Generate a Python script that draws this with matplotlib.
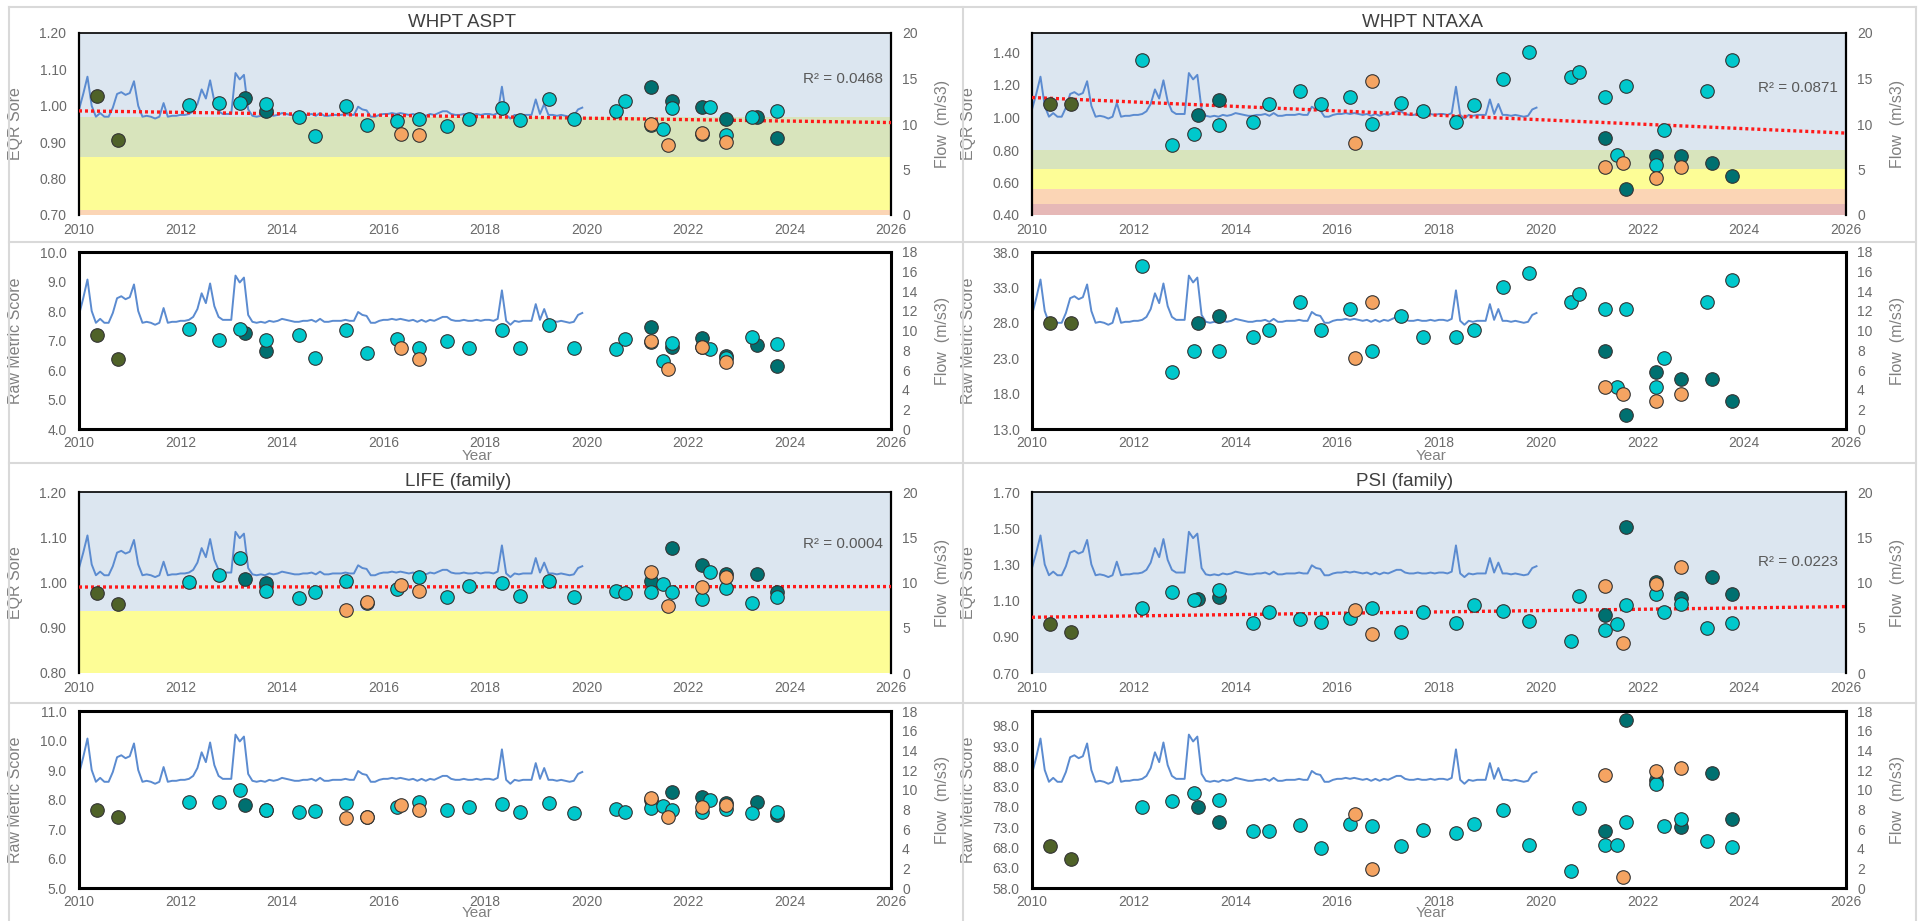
import numpy as np
import matplotlib.pyplot as plt
import matplotlib.transforms as mtransforms
from matplotlib.patches import Rectangle
from matplotlib.lines import Line2D
from matplotlib.ticker import FormatStrFormatter, FixedLocator

plt.rcParams['font.family'] = ['Liberation Sans', 'DejaVu Sans']

nan = np.nan

# ---- flow (m/s3), monthly from Jan 2010 to Dec 2019 ----
flow = [11.6, 13.3, 15.2, 12.0, 10.8, 11.2, 10.8, 10.8, 11.8, 13.3, 13.5, 13.2,
        13.4, 14.7, 12.0, 10.8, 10.9, 10.8, 10.6, 10.8, 12.3, 10.8, 10.9, 10.9,
        11.0, 11.0, 11.1, 11.4, 12.2, 13.8, 12.8, 14.8, 12.5, 11.4, 11.1, 11.1,
        11.1, 15.6, 14.9, 15.4, 11.6, 10.9, 10.8, 10.9, 10.8, 11.0, 10.9, 11.0,
        11.2, 11.1, 11.0, 10.9, 10.9, 11.0, 11.0, 11.1, 10.9, 11.2, 10.9, 10.9,
        11.0, 11.0, 11.0, 11.1, 11.0, 11.0, 11.9, 11.6, 11.5, 10.8, 10.8, 11.0,
        11.1, 11.1, 11.2, 11.1, 11.2, 11.1, 11.0, 11.1, 10.9, 11.1, 10.9, 11.1,
        11.0, 11.2, 11.4, 11.4, 11.1, 11.0, 11.0, 11.1, 11.0, 11.0, 11.1, 11.0,
        11.1, 11.1, 11.0, 11.2, 14.1, 11.0, 10.6, 11.0, 10.9, 11.0, 11.0, 11.0,
        12.7, 11.1, 12.2, 11.0, 11.0, 10.9, 11.0, 10.9, 10.8, 10.9, 11.6, 11.8]
flow_years = 2010 + np.arange(len(flow)) / 12

# ---- sample dates (decimal years) per series ----
olive_dates = [2010.35, 2010.76]
cyan_dates = [2012.17, 2012.75, 2013.18, 2013.68, 2014.34, 2014.66, 2015.27, 2015.68,
              2016.26, 2016.69, 2017.25, 2017.69, 2018.34, 2018.68, 2019.26, 2019.76,
              2020.59, 2020.76, 2021.27, 2021.50, 2021.68, 2022.27, 2022.43, 2022.75,
              2023.26, 2023.76]
teal_dates = [2013.27, 2013.68, 2021.27, 2021.68, 2022.27, 2022.75, 2023.36, 2023.76]
orange_dates = [2015.27, 2015.68, 2016.35, 2016.69, 2021.27, 2021.61, 2022.27, 2022.75]

# ---- WHPT ASPT ----
aspt_eqr_olive = [1.027, 0.906]
aspt_eqr_cyan = [1.002, 1.009, 1.007, 1.006, 0.969, 0.917, 0.999, 0.946, 0.958, 0.965,
                 0.944, 0.963, 0.993, 0.961, 1.020, 0.963, 0.985, 1.012, 0.946, 0.935,
                 0.994, 0.922, 0.998, 0.920, 0.969, 0.987]
aspt_eqr_teal = [1.021, 0.985, 1.053, 1.013, 0.998, 0.965, 0.969, 0.911]
aspt_eqr_orange = [nan, nan, 0.923, 0.921, 0.950, 0.892, 0.926, 0.900]
aspt_trend = [0.986, 0.954]
aspt_r2 = "R² = 0.0468"
aspt_bands = [1.20, 0.968, 0.859, 0.715, 0.70]

aspt_raw_olive = [7.20, 6.36]
aspt_raw_cyan = [7.38, 7.01, 7.39, 7.01, 7.17, 6.41, 7.36, 6.59, 7.05, 6.73, 6.99, 6.73,
                 7.36, 6.73, 7.52, 6.76, 6.72, 7.05, 6.95, 6.30, 6.90, 6.77, 6.72, 6.40,
                 7.12, 6.88]
aspt_raw_teal = [7.24, 6.65, 7.46, 6.79, 7.09, 6.48, 6.85, 6.13]
aspt_raw_orange = [nan, nan, 6.75, 6.37, 6.98, 6.02, 6.79, 6.26]

# ---- WHPT NTAXA ----
ntaxa_eqr_olive = [1.08, 1.08]
ntaxa_eqr_cyan = [1.351, 0.828, 0.900, 0.953, 0.973, 1.082, 1.162, 1.082, 1.125, 0.961,
                  1.088, 1.041, 0.973, 1.076, 1.238, 1.400, 1.248, 1.277, 1.125, 0.768,
                  1.195, 0.709, 0.920, nan, 1.164, 1.355]
ntaxa_eqr_teal = [1.016, 1.105, 0.871, 0.563, 0.764, 0.760, 0.723, 0.643]
ntaxa_eqr_orange = [nan, nan, 0.846, 1.222, 0.698, 0.719, 0.625, 0.698]
ntaxa_trend = [1.123, 0.904]
ntaxa_r2 = "R² = 0.0871"
ntaxa_bands = [1.52, 0.80, 0.68, 0.56, 0.465, 0.40]

ntaxa_raw_olive = [28, 28]
ntaxa_raw_cyan = [36, 21, 24, 24, 26, 27, 31, 27, 30, 24, 29, 26, 26, 27, 33, 35,
                  31, 32, 30, 19, 30, 19, 23, nan, 31, 34]
ntaxa_raw_teal = [28, 29, 24, 15, 21, 20, 20, 17]
ntaxa_raw_orange = [nan, nan, 23, 31, 19, 18, 17, 18]

# ---- LIFE (family) ----
life_eqr_olive = [0.977, 0.953]
life_eqr_cyan = [1.002, 1.017, 1.054, 0.981, 0.966, 0.979, 1.004, 0.955, 0.986, 1.012,
                 0.968, 0.993, 0.999, 0.970, 1.004, 0.968, 0.981, 0.977, 0.979, 0.997,
                 0.979, 0.964, 1.023, 0.987, 0.955, 0.968]
life_eqr_teal = [1.008, 0.999, 1.004, 1.076, 1.039, 1.019, 1.018, 0.979]
life_eqr_orange = [0.939, 0.958, 0.995, 0.982, 1.024, 0.949, 0.990, 1.012]
life_trend = [0.990, 0.991]
life_r2 = "R² = 0.0004"
life_bands = [1.20, 0.937, 0.80]

life_raw_olive = [7.63, 7.42]
life_raw_cyan = [7.91, 7.91, 8.31, 7.65, 7.59, 7.61, 7.88, 7.40, 7.74, 7.90, 7.63, 7.74,
                 7.85, 7.56, 7.88, 7.53, 7.67, 7.57, 7.70, 7.78, 7.63, 7.59, 7.99, 7.67,
                 7.53, 7.59]
life_raw_teal = [7.80, 7.63, 7.98, 8.27, 8.10, 7.88, 7.93, 7.48]
life_raw_orange = [7.38, 7.42, 7.80, 7.63, 8.05, 7.40, 7.74, 7.82]

# ---- PSI (family) ----
psi_eqr_olive = [0.972, 0.924]
psi_eqr_cyan = [1.061, 1.146, 1.104, 1.159, 0.979, 1.039, 0.997, 0.984, 1.003, 1.061,
                0.929, 1.039, 0.977, 1.073, 1.045, 0.990, 0.878, 1.126, 0.935, 0.972,
                1.076, 1.135, 1.036, 1.082, 0.948, 0.979]
psi_eqr_teal = [1.107, 1.122, 1.021, 1.507, 1.205, 1.113, 1.228, 1.135]
psi_eqr_orange = [nan, nan, 1.049, 0.917, 1.181, 0.865, 1.190, 1.283]
psi_trend = [1.008, 1.067]
psi_r2 = "R² = 0.0223"
psi_bands = [1.70, 0.70]

psi_raw_olive = [68.4, 65.1]
psi_raw_cyan = [77.9, 79.5, 81.4, 79.8, 72.1, 72.1, 73.6, 67.9, 73.8, 73.4, 68.4, 72.3,
                71.7, 73.9, 77.2, 68.7, 62.3, 77.7, 68.7, 68.7, 74.3, 83.8, 73.4, 75.0,
                69.7, 68.2]
psi_raw_teal = [78.1, 74.3, 72.1, 99.4, 84.6, 73.1, 86.5, 75.0]
psi_raw_orange = [nan, nan, 76.2, 62.7, 85.8, 60.8, 86.9, 87.7]

# ---- styles ----
BLUE, GREEN, YELLOW, ORANGE, RED = '#dce6f0', '#d8e4bc', '#fdfd96', '#fbd5b5', '#e6b8b7'
col_olive, col_teal, col_cyan, col_orange = '#4f6228', '#007070', '#00c8cc', '#f5a462'
flow_col = '#5b8bd0'
tick_col = '#6a6a6a'
lab_col = '#808080'
xlim = (2010, 2026)
xticks = [2010, 2012, 2014, 2016, 2018, 2020, 2022, 2024, 2026]

W, H = 1919, 921
fig = plt.figure(figsize=(W / 100, H / 100), dpi=100)


def rect(x0, y0, x1, y1):
    return [x0 / W, 1 - y1 / H, (x1 - x0) / W, (y1 - y0) / H]


def points(ax, olive, teal, cyan, orange):
    for d, v, c in [(olive_dates, olive, col_olive), (teal_dates, teal, col_teal),
                    (cyan_dates, cyan, col_cyan), (orange_dates, orange, col_orange)]:
        ax.scatter(d, v, s=95, c=c, edgecolors='#333333', linewidths=0.8, zorder=4)


def base(ax, ax2, ylim, yticks, fmt, flow_max, flow_ticks, ylabel, xpad):
    ax.set_zorder(ax2.get_zorder() + 1)
    ax.patch.set_visible(False)
    ax2.plot(flow_years, flow, color=flow_col, lw=1.4, zorder=2)
    ax.set_xlim(xlim)
    ax.set_ylim(ylim)
    ax2.set_ylim(0, flow_max)
    ax.xaxis.set_major_locator(FixedLocator(xticks))
    ax.yaxis.set_major_locator(FixedLocator(yticks))
    ax.yaxis.set_major_formatter(FormatStrFormatter(fmt))
    ax2.yaxis.set_major_locator(FixedLocator(flow_ticks))
    ax.tick_params(length=0, labelsize=10, colors=tick_col)
    ax.tick_params(axis='y', pad=9)
    ax.tick_params(axis='x', pad=xpad)
    ax2.tick_params(length=0, labelsize=10, colors=tick_col, pad=8)
    ax.set_ylabel(ylabel, fontsize=11.5, color=lab_col)
    ax.yaxis.set_label_coords(-0.069, 0.5)
    ax2.set_ylabel('Flow  (m/s3)', fontsize=11.5, color=lab_col)
    ax2.yaxis.set_label_coords(1.054, 0.5)
    for s in ax2.spines.values():
        s.set_visible(False)


def eqr_panel(r, title, title_x, ylim, yticks, bands, band_cols, olive, teal, cyan,
              orange, trend, r2, r2_y):
    ax = fig.add_axes(r)
    ax2 = ax.twinx()
    base(ax, ax2, ylim, yticks, '%.2f', 20, [0, 5, 10, 15, 20], 'EQR Sore', 6)
    trans = mtransforms.blended_transform_factory(ax2.transAxes, ax.transData)
    for i, col in enumerate(band_cols):
        ax2.add_patch(Rectangle((0, bands[i + 1]), 1, bands[i] - bands[i + 1],
                                transform=trans, color=col, lw=0, zorder=0))
    ax.plot(xlim, trend, color='#ff1a1a', lw=2.4, ls=(0, (0.9, 0.9)), zorder=3)
    points(ax, olive, teal, cyan, orange)
    ax.text(0.99, r2_y, r2, transform=ax.transAxes, ha='right', va='center',
            fontsize=11, color='#595959', zorder=5)
    ax.set_title(title, fontsize=13.5, color='#404040', x=title_x, pad=4)
    ax.spines['bottom'].set_visible(False)
    for k in ['left', 'right', 'top']:
        ax.spines[k].set_color('black')
        ax.spines[k].set_linewidth(1.6)
    ax.spines['top'].set_linewidth(1.2)


def raw_panel(r, ylim, yticks, olive, teal, cyan, orange, year_y):
    ax = fig.add_axes(r)
    ax2 = ax.twinx()
    base(ax, ax2, ylim, yticks, '%.1f', 18, list(range(0, 19, 2)), 'Raw Metric Score', 5)
    points(ax, olive, teal, cyan, orange)
    for s in ax.spines.values():
        s.set_color('black')
        s.set_linewidth(2.2)
    ax.set_xlabel('Year', fontsize=11, color=lab_col)
    ax.xaxis.set_label_coords(0.49, year_y)


lx0, lx1, rx0, rx1 = 79, 891, 1032, 1846

eqr_panel(rect(lx0, 33, lx1, 215), 'WHPT ASPT', 0.472, (0.70, 1.20),
          [0.7, 0.8, 0.9, 1.0, 1.1, 1.2], aspt_bands, [BLUE, GREEN, YELLOW, ORANGE],
          aspt_eqr_olive, aspt_eqr_teal, aspt_eqr_cyan, aspt_eqr_orange,
          aspt_trend, aspt_r2, 0.748)
raw_panel(rect(lx0, 252, lx1, 429), (4.0, 10.0), [4, 5, 6, 7, 8, 9, 10],
          aspt_raw_olive, aspt_raw_teal, aspt_raw_cyan, aspt_raw_orange, -0.115)

eqr_panel(rect(rx0, 33, rx1, 215), 'WHPT NTAXA', 0.48, (0.40, 1.52),
          [0.4, 0.6, 0.8, 1.0, 1.2, 1.4], ntaxa_bands, [BLUE, GREEN, YELLOW, ORANGE, RED],
          ntaxa_eqr_olive, ntaxa_eqr_teal, ntaxa_eqr_cyan, ntaxa_eqr_orange,
          ntaxa_trend, ntaxa_r2, 0.696)
raw_panel(rect(rx0, 252, rx1, 429), (13.0, 38.0), [13, 18, 23, 28, 33, 38],
          ntaxa_raw_olive, ntaxa_raw_teal, ntaxa_raw_cyan, ntaxa_raw_orange, -0.115)

eqr_panel(rect(lx0, 492, lx1, 673), 'LIFE (family)', 0.467, (0.80, 1.20),
          [0.8, 0.9, 1.0, 1.1, 1.2], life_bands, [BLUE, YELLOW],
          life_eqr_olive, life_eqr_teal, life_eqr_cyan, life_eqr_orange,
          life_trend, life_r2, 0.715)
raw_panel(rect(lx0, 711, lx1, 888), (5.0, 11.0), [5, 6, 7, 8, 9, 10, 11],
          life_raw_olive, life_raw_teal, life_raw_cyan, life_raw_orange, -0.102)

eqr_panel(rect(rx0, 492, rx1, 673), 'PSI (family)', 0.458, (0.70, 1.70),
          [0.7, 0.9, 1.1, 1.3, 1.5, 1.7], psi_bands, [BLUE],
          psi_eqr_olive, psi_eqr_teal, psi_eqr_cyan, psi_eqr_orange,
          psi_trend, psi_r2, 0.615)
raw_panel(rect(rx0, 711, rx1, 888), (58.0, 101.7), [58, 63, 68, 73, 78, 83, 88, 93, 98],
          psi_raw_olive, psi_raw_teal, psi_raw_cyan, psi_raw_orange, -0.102)

# chart frames (light grey borders between the pasted charts)
frame = [((9, 7), (1916, 7)), ((9, 242), (1916, 242)), ((9, 463), (1916, 463)),
         ((9, 703), (1916, 703)), ((9, 7), (9, 921)), ((963, 7), (963, 921)),
         ((1916, 7), (1916, 921))]
for (x0, y0), (x1, y1) in frame:
    fig.add_artist(Line2D([x0 / W, x1 / W], [1 - y0 / H, 1 - y1 / H],
                          transform=fig.transFigure, color='#d9d9d9', lw=1.5))

fig.savefig('out.png', dpi=100, facecolor='white')
